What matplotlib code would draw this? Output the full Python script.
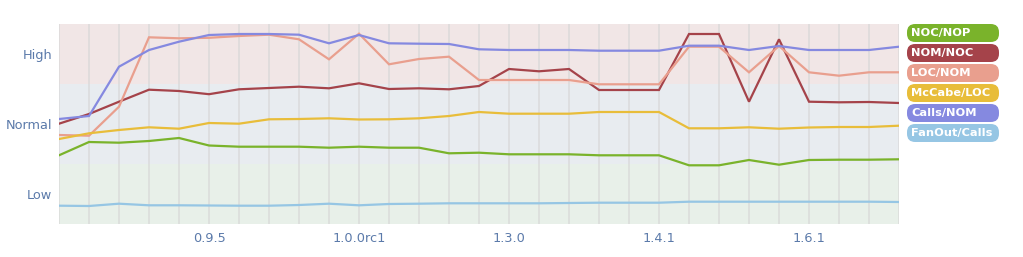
import matplotlib
matplotlib.use("Agg")
import matplotlib.pyplot as plt
from matplotlib.patches import FancyBboxPatch
import numpy as np

# x positions: 29 releases, only some labelled
n_points = 29
tick_positions = [5, 10, 15, 20, 25]
tick_labels = ["0.9.5", "1.0.0rc1", "1.3.0", "1.4.1", "1.6.1"]

# y scale: Low band 0-60, Normal 60-140, High 140-200
band_edges = [0, 60, 140, 200]
level_positions = [30, 100, 170]
level_labels = ["Low", "Normal", "High"]

series_names = ["NOC/NOP", "NOM/NOC", "LOC/NOM", "McCabe/LOC", "Calls/NOM", "FanOut/Calls"]
series_colors = ["#7ab32b", "#a5434a", "#e99f8e", "#e8bd3a", "#8589e0", "#96c6e4"]

_px_noc_nop = [155.3, 142, 142.7, 141, 138, 145.5, 146.7, 146.7, 146.7, 147.7,
               146.7, 147.7, 147.7, 153.3, 152.7, 154.3, 154.3, 154.3, 155.3, 155.3,
               155.3, 165.3, 165.3, 160, 164.7, 160, 159.7, 159.7, 159.3]
_px_nom_noc = [123.7, 114, 101.7, 89.7, 91, 94.2, 89.3, 88, 86.7, 88.3,
               83.3, 89, 88.3, 89.3, 86, 69, 71.3, 69, 90, 90,
               90, 34, 34, 101.7, 39.3, 101.7, 102.3, 102, 103]
_px_loc_nom = [135, 135.7, 106.7, 37.3, 38.3, 37.8, 36, 34.7, 39.3, 59.3,
               33.7, 64.3, 59, 56.7, 80, 80, 80, 80, 84.3, 84.3,
               84.3, 46.7, 46.7, 72.3, 46, 72.3, 75.7, 72.3, 72.3]
_px_mccabe_loc = [139, 133.3, 130, 127.3, 128.7, 123, 123.7, 119.3, 119, 118.3,
                  119.5, 119.3, 118.3, 116, 112, 113.7, 113.7, 113.7, 112, 112,
                  112, 128.3, 128.3, 127.3, 128.7, 127.5, 127, 127, 125.7]
_px_calls_nom = [119, 116, 66.7, 50, 41.7, 35, 34, 34, 34.7, 43.3,
                 35, 43.3, 43.7, 44, 49.3, 50, 50, 50, 50.7, 50.7,
                 50.7, 45.7, 45.7, 50, 46, 50, 50, 50, 46.7]
_px_fanout_calls = [205.7, 206, 203.7, 205.3, 205.3, 205.5, 205.7, 205.7, 205, 203.7,
                    205.3, 204, 203.7, 203.3, 203.3, 203.3, 203.3, 203, 202.7, 202.7,
                    202.7, 201.7, 201.7, 201.7, 201.7, 201.7, 201.7, 201.7, 202]

# convert read-off positions to chart values (0 at bottom, 200 at top)
noc_nop = [224 - v for v in _px_noc_nop]
nom_noc = [224 - v for v in _px_nom_noc]
loc_nom = [224 - v for v in _px_loc_nom]
mccabe_loc = [224 - v for v in _px_mccabe_loc]
calls_nom = [224 - v for v in _px_calls_nom]
fanout_calls = [224 - v for v in _px_fanout_calls]
series_values = [noc_nop, nom_noc, loc_nom, mccabe_loc, calls_nom, fanout_calls]

band_colors = ["#e8f0e9", "#e8ecf0", "#f1e6e6"]
text_color = "#5b7aaa"

W, H = 1023, 257
fig = plt.figure(figsize=(W / 100, H / 100), dpi=100)
ax = fig.add_axes([59 / W, (H - 224) / H, (899 - 59) / W, 200 / H])

for i in range(3):
    ax.axhspan(band_edges[i], band_edges[i + 1], color=band_colors[i], lw=0, zorder=0)

x = np.arange(n_points)
for xi in x:
    ax.axvline(xi, color="#d8d8d8", lw=1.2, alpha=0.8, zorder=1)

for vals, c in zip(series_values, series_colors):
    ax.plot(x, vals, color=c, lw=1.6, zorder=3, solid_joinstyle="miter")

ax.set_xlim(0, n_points - 1)
ax.set_ylim(band_edges[0], band_edges[-1])
ax.set_xticks(tick_positions)
ax.set_xticklabels(tick_labels)
ax.set_yticks(level_positions)
ax.set_yticklabels(level_labels)
ax.tick_params(axis="both", length=0, labelsize=9.3, labelcolor=text_color)
ax.tick_params(axis="x", pad=6)
ax.tick_params(axis="y", pad=5)
for s in ax.spines.values():
    s.set_visible(False)

# legend as coloured rounded boxes
box_x0, box_w, box_h = 907, 92, 18
for k, (name, c) in enumerate(zip(series_names, series_colors)):
    top = 24 + 20 * k
    patch = FancyBboxPatch(((box_x0) / W, (H - top - box_h) / H), box_w / W, box_h / H,
                           boxstyle="round,pad=0,rounding_size=0.008",
                           transform=fig.transFigure, facecolor=c, edgecolor="none",
                           mutation_aspect=W / H)
    fig.patches.append(patch)
    fig.text((box_x0 + 4) / W, (H - top - box_h / 2) / H, name, color="white",
             fontsize=8.2, fontweight="bold", va="center", ha="left")

fig.savefig("out.png", dpi=100)
